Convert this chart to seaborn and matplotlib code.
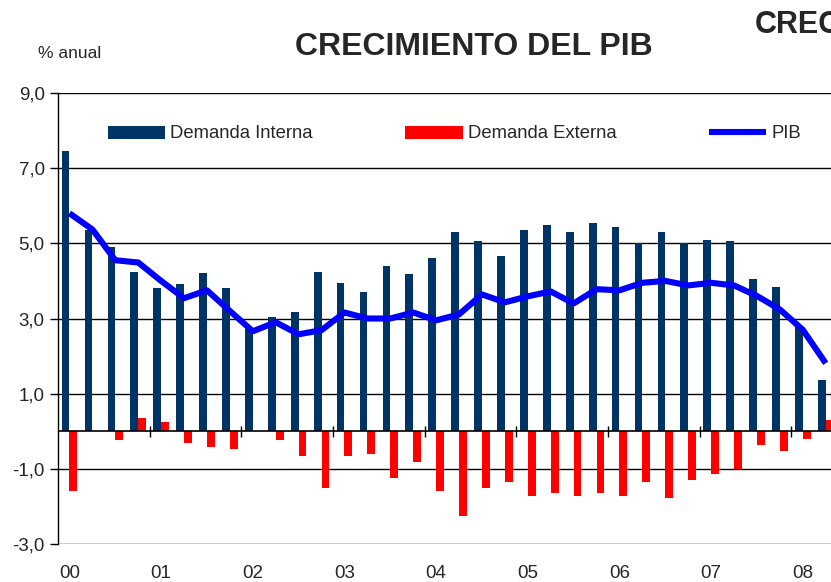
import numpy as np
import pandas as pd
import matplotlib
matplotlib.use("Agg")
import matplotlib.pyplot as plt
import seaborn as sns

# ---- data (annual % growth, quarterly 2000Q1 - 2008Q2) ----
demanda_interna = [7.47, 5.35, 4.90, 4.23, 3.82, 3.93, 4.22, 3.82, 2.72, 3.05,
                   3.16, 4.23, 3.94, 3.70, 4.41, 4.18, 4.60, 5.29, 5.05, 4.65,
                   5.35, 5.48, 5.29, 5.53, 5.43, 5.00, 5.29, 5.00, 5.10, 5.05,
                   4.04, 3.83, 2.77, 1.36]
demanda_externa = [-1.59, 0.00, -0.23, 0.35, 0.24, -0.31, -0.42, -0.47, 0.00, -0.23,
                   -0.66, -1.51, -0.66, -0.60, -1.24, -0.82, -1.59, -2.25, -1.51, -1.35,
                   -1.72, -1.64, -1.72, -1.64, -1.72, -1.35, -1.77, -1.30, -1.13, -1.00,
                   -0.36, -0.52, -0.21, 0.29]
pib = [5.80, 5.37, 4.55, 4.49, 4.00, 3.54, 3.75, 3.20, 2.66, 2.90,
       2.58, 2.69, 3.16, 3.00, 3.00, 3.16, 2.95, 3.11, 3.64, 3.43,
       3.59, 3.72, 3.40, 3.78, 3.75, 3.95, 4.00, 3.88, 3.95, 3.88,
       3.60, 3.24, 2.70, 1.81]
year_labels = ["00", "01", "02", "03", "04", "05", "06", "07", "08"]
y_ticks = [9, 7, 5, 3, 1, -1, -3]

n = len(pib)
q = list(range(n))
df = pd.DataFrame({
    "q": q * 2,
    "valor": demanda_interna + demanda_externa,
    "serie": ["Demanda Interna"] * n + ["Demanda Externa"] * n,
})

sns.set_style("white")
plt.rcParams["font.family"] = ["Liberation Sans", "DejaVu Sans"]

W, H = 831, 582
fig = plt.figure(figsize=(W / 100, H / 100), dpi=100)
ax_left, ax_right, ax_top, ax_bot = 58, 883, 93, 544
ax = fig.add_axes([ax_left / W, (H - ax_bot) / H, (ax_right - ax_left) / W, (ax_bot - ax_top) / H])

navy = "#003366"
red = "#FF0000"
blue = "#0000FF"

sns.barplot(data=df, x="q", y="valor", hue="serie", order=q,
            hue_order=["Demanda Interna", "Demanda Externa"],
            palette=[navy, red], width=0.68, saturation=1, linewidth=0,
            dodge=True, ax=ax, legend=True, errorbar=None)
sns.lineplot(x=q, y=pib, color=blue, linewidth=4.4, ax=ax, label="PIB",
             solid_joinstyle="round", solid_capstyle="butt", zorder=5)

ax.set_xlim(-0.5, 35.5)
ax.set_ylim(-3, 9)

# gridlines at the labelled values
for v in y_ticks:
    ax.axhline(v, color="black", linewidth=1.0, zorder=0.5)
ax.axhline(0, color="black", linewidth=1.2, zorder=3)
# year separators on the zero line
ax.vlines(np.arange(3.5, 36, 4), -0.14, 0.14, color="black", linewidth=1.0, zorder=3)

for s in ["top", "right", "bottom"]:
    ax.spines[s].set_visible(False)
ax.spines["left"].set_color("black")
ax.spines["left"].set_linewidth(1.0)

ax.set_yticks(y_ticks)
ax.set_yticklabels([f"{v:.1f}".replace(".", ",") for v in y_ticks], fontsize=13.5)
ax.tick_params(axis="y", direction="out", length=6, width=1, color="black", pad=3.5, left=True)
ax.set_xticks(list(range(0, 33, 4)))
ax.set_xticklabels(year_labels, fontsize=13.5)
ax.tick_params(axis="x", length=0, pad=15)
ax.set_xlabel("")
ax.set_ylabel("")

# legend
handles, labels = ax.get_legend_handles_labels()
order = [labels.index(l) for l in ["Demanda Interna", "Demanda Externa", "PIB"]]
leg = fig.legend([handles[i] for i in order], [labels[i] for i in order],
                 loc="center left", bbox_to_anchor=(108 / W, 1 - 134 / H),
                 ncol=3, frameon=False, fontsize=13.3, handlelength=3.1,
                 handleheight=0.7, handletextpad=0.28, columnspacing=5.0,
                 borderpad=0, borderaxespad=0)
if ax.get_legend() is not None:
    ax.get_legend().remove()

# texts
fig.text(38 / W, 1 - 53 / H, "% anual", fontsize=12.5, va="center", ha="left")
fig.text(474 / W, 1 - 47 / H, "CRECIMIENTO DEL PIB", fontsize=23, fontweight="bold",
         va="center", ha="center")
fig.text(755 / W, 1 - 25 / H, "CRECIMIENTO", fontsize=22, fontweight="bold",
         va="center", ha="left")

fig.savefig("out.png", dpi=100)
